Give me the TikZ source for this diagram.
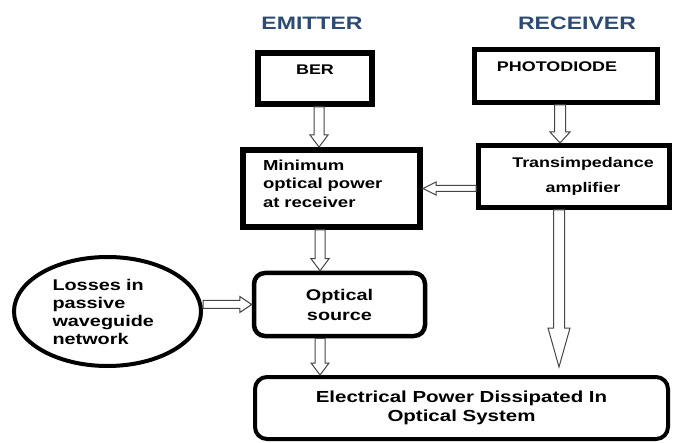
\documentclass[tikz,border=0pt]{standalone}
\usepackage{fontspec}
\newfontfamily\lab{Liberation Sans Bold}[FakeStretch=1.28]
\usetikzlibrary{calc,shapes.geometric}
\definecolor{hdr}{RGB}{44,74,114}
\definecolor{arr}{RGB}{70,70,70}
% vertical hollow block arrow: start, end, half shaft, half head, head length
\newcommand\vArrow[5]{\draw[harrow] let \p1=(#1), \p2=(#2) in
 ({\x1-#3},\y1) -- ({\x1-#3},{\y2+(#5)}) -- ({\x1-#4},{\y2+(#5)}) -- (\x1,\y2)
 -- ({\x1+#4},{\y2+(#5)}) -- ({\x1+#3},{\y2+(#5)}) -- ({\x1+#3},\y1) -- cycle;}
% horizontal hollow block arrow: start, end, half shaft, half head, signed head length
\newcommand\hArrow[5]{\draw[harrow] let \p1=(#1), \p2=(#2) in
 (\x1,{\y1+#3}) -- ({\x2+(#5)},{\y1+#3}) -- ({\x2+(#5)},{\y1+#4}) -- (\x2,\y1)
 -- ({\x2+(#5)},{\y1-#4}) -- ({\x2+(#5)},{\y1-#3}) -- (\x1,{\y1-#3}) -- cycle;}
\begin{document}
\begin{tikzpicture}[x=1pt,y=-1pt,
 hdrtxt/.style={font=\lab\fontsize{18pt}{20pt}\selectfont, text=hdr, inner sep=0},
 box/.style={draw, rectangle, inner sep=0},
 lbl/.style 2 args={font=\lab\fontsize{#1}{#2}\selectfont},
 harrow/.style={draw=arr, line width=1pt, fill=white, line join=miter}]
\useasboundingbox[fill=white] (0,0) rectangle (674,443);

\node[hdrtxt] (emit) at (312,23) {EMITTER};
\node[hdrtxt] (recv) at (577,23) {RECEIVER};

\node[box, line width=6pt, minimum width=114, minimum height=51, lbl={14pt}{17pt}] (ber) at (315,78.5) {BER\rule[-17pt]{0pt}{17pt}};
\node[box, line width=5pt, minimum width=183, minimum height=53, lbl={14pt}{17pt}] (pd) at (566,76) {PHOTODIODE\hspace*{18pt}\rule[-18pt]{0pt}{18pt}};
\node[box, line width=6pt, minimum width=177, minimum height=77, text width=137pt, inner xsep=20pt, align=left, lbl={14.5pt}{18.5pt}] (min) at (331.5,188.5) {Minimum\\optical power\\at receiver\rule[-10pt]{0pt}{10pt}};
\node[box, line width=5pt, minimum width=191, minimum height=62, align=center, lbl={14pt}{25pt}] (tia) at (574,176.5) {\hspace*{18pt}Transimpedance\\\hspace*{18pt}amplifier};
\node[box, rounded corners=11pt, line width=4.5pt, minimum width=171, minimum height=63, align=center, lbl={15.5pt}{20pt}] (src) at (339.5,304.5) {Optical\\source};
\node[box, rounded corners=12pt, line width=4pt, minimum width=413, minimum height=62, align=center, lbl={16pt}{19pt}] (eps) at (461.5,408) {Electrical Power Dissipated In\\Optical System};
\node[ellipse, draw, line width=4pt, minimum width=187, minimum height=109, inner sep=0, text width=110pt, align=left, lbl={15.5pt}{18pt}] (loss) at (107.5,311.5) {Losses in\\passive\\waveguide\\network};

\coordinate (ltip) at (559,367);

\vArrow{[xshift=4pt]ber.south}{min.north}{5pt}{9pt}{12pt}
\vArrow{[xshift=-6pt]pd.south}{tia.north}{5.5pt}{10pt}{11pt}
\hArrow{tia.west |- min.east}{min.east}{3pt}{6.5pt}{13pt}
\vArrow{[xshift=-11.5pt]min.south}{src.north}{5pt}{9pt}{12pt}
\hArrow{loss.east |- src.west}{src.west}{4pt}{8pt}{-12pt}
\vArrow{[xshift=-19.5pt]src.south}{eps.north}{5pt}{9pt}{12pt}
\vArrow{[xshift=-15pt]tia.south}{ltip}{5.5pt}{11pt}{39pt}
\end{tikzpicture}
\end{document}
